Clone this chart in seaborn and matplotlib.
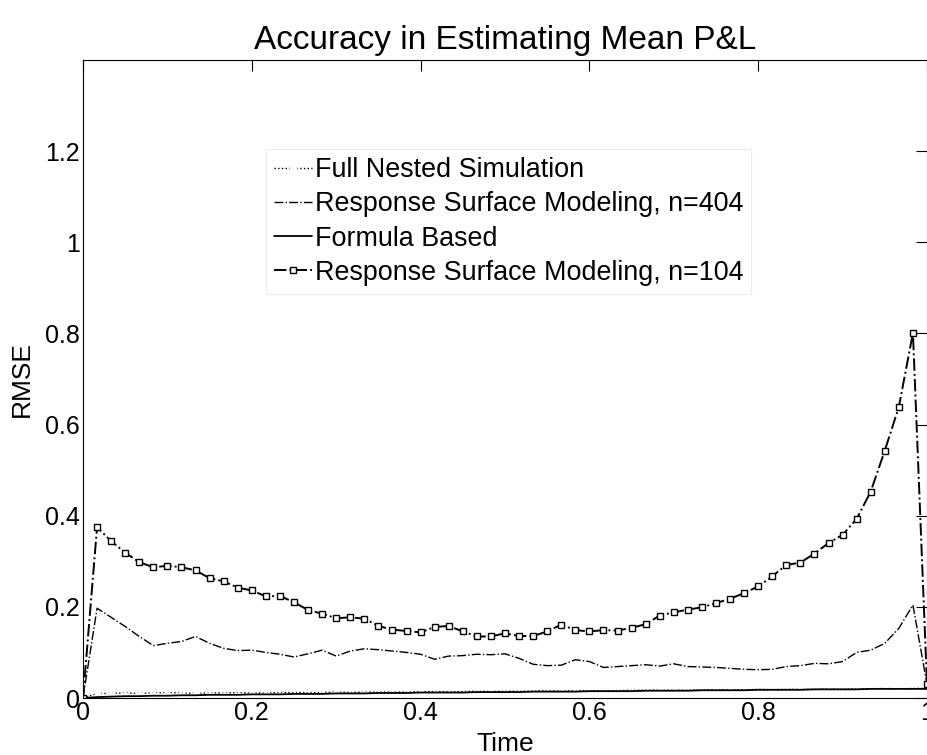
import numpy as np
import pandas as pd
import matplotlib
matplotlib.use("Agg")
import matplotlib.pyplot as plt
import seaborn as sns

sns.set_style("white")
plt.rcParams['font.family'] = ['Liberation Sans', 'DejaVu Sans']
plt.rcParams['text.color'] = 'black'
plt.rcParams['axes.labelcolor'] = 'black'

# Time grid: 61 points (k/60)
time = [k / 60 for k in range(61)]

full_nested = [0.000, 0.010, 0.010, 0.011, 0.010, 0.011, 0.012, 0.011, 0.010, 0.011,
               0.011, 0.012, 0.011, 0.011, 0.012, 0.012, 0.012, 0.012, 0.013, 0.012,
               0.013, 0.013, 0.013, 0.013, 0.014, 0.014, 0.014, 0.014, 0.015, 0.014,
               0.015, 0.015, 0.015, 0.016, 0.015, 0.016, 0.016, 0.016, 0.016, 0.017,
               0.017, 0.017, 0.017, 0.017, 0.018, 0.018, 0.018, 0.018, 0.019, 0.018,
               0.019, 0.019, 0.019, 0.020, 0.019, 0.020, 0.020, 0.021, 0.020, 0.021,
               0.021]

rsm_404 = [0.000, 0.197, 0.177, 0.157, 0.135, 0.115, 0.120, 0.124, 0.135, 0.120,
           0.109, 0.104, 0.105, 0.100, 0.096, 0.090, 0.097, 0.105, 0.092, 0.103,
           0.108, 0.106, 0.103, 0.100, 0.096, 0.085, 0.092, 0.093, 0.096, 0.095,
           0.097, 0.087, 0.074, 0.071, 0.072, 0.084, 0.080, 0.067, 0.069, 0.071,
           0.073, 0.070, 0.075, 0.069, 0.068, 0.067, 0.065, 0.063, 0.062, 0.063,
           0.069, 0.071, 0.076, 0.075, 0.080, 0.100, 0.105, 0.120, 0.153, 0.204,
           0.030]

formula = [0.000, 0.002, 0.003, 0.004, 0.004, 0.005, 0.005, 0.006, 0.006, 0.007,
           0.007, 0.007, 0.008, 0.008, 0.008, 0.009, 0.009, 0.009, 0.010, 0.010,
           0.010, 0.011, 0.011, 0.011, 0.012, 0.012, 0.012, 0.012, 0.013, 0.013,
           0.013, 0.013, 0.014, 0.014, 0.014, 0.014, 0.015, 0.015, 0.015, 0.015,
           0.016, 0.016, 0.016, 0.016, 0.017, 0.017, 0.017, 0.017, 0.018, 0.018,
           0.018, 0.018, 0.019, 0.019, 0.019, 0.019, 0.020, 0.020, 0.020, 0.020,
           0.020]

rsm_104 = [0.000, 0.375, 0.344, 0.319, 0.298, 0.287, 0.290, 0.287, 0.280, 0.263,
           0.256, 0.242, 0.236, 0.223, 0.224, 0.210, 0.193, 0.185, 0.175, 0.177,
           0.174, 0.158, 0.150, 0.147, 0.144, 0.156, 0.158, 0.146, 0.135, 0.135,
           0.142, 0.136, 0.136, 0.146, 0.161, 0.149, 0.146, 0.149, 0.148, 0.154,
           0.162, 0.181, 0.188, 0.194, 0.199, 0.208, 0.218, 0.230, 0.245, 0.267,
           0.292, 0.297, 0.317, 0.340, 0.358, 0.393, 0.453, 0.543, 0.639, 0.801,
           0.030]

labels = ["Full Nested Simulation", "Response Surface Modeling, n=404",
          "Formula Based", "Response Surface Modeling, n=104"]

fig = plt.figure(figsize=(9.28, 7.55), dpi=100)
ax = fig.add_axes([83 / 928, 57 / 755, 844 / 928, 638 / 755])

df = pd.DataFrame({"Time": time, "fn": full_nested, "r404": rsm_404,
                   "fb": formula, "r104": rsm_104})

sns.lineplot(data=df, x="Time", y="fn", ax=ax, color="black", lw=1.0,
             linestyle=":", marker="+", markersize=6, markeredgewidth=1.0,
             label=labels[0])
sns.lineplot(data=df, x="Time", y="r404", ax=ax, color="black", lw=1.0,
             linestyle="-.", label=labels[1])
sns.lineplot(data=df, x="Time", y="fb", ax=ax, color="black", lw=1.3,
             linestyle="-", label=labels[2])
sns.lineplot(data=df, x="Time", y="r104", ax=ax, color="black", lw=1.4,
             linestyle="-.", marker="s", markersize=4, markerfacecolor="white",
             markeredgecolor="black", markeredgewidth=1.0, label=labels[3])

ax.set_xlim(0, 1)
ax.set_ylim(0, 1.4)
xt = [0, 0.2, 0.4, 0.6, 0.8, 1.0]
yt = [0, 0.2, 0.4, 0.6, 0.8, 1.0, 1.2]
ax.set_xticks(xt)
ax.set_xticklabels(["0", "0.2", "0.4", "0.6", "0.8", "1"])
ax.set_yticks(yt)
ax.set_yticklabels(["0", "0.2", "0.4", "0.6", "0.8", "1", "1.2"])
ax.tick_params(direction="in", length=8, width=0.8, top=True, right=True,
               labelsize=18, pad=2, colors="black")
for s in ax.spines.values():
    s.set_color("black")
    s.set_linewidth(0.8)

ax.set_xlabel("Time", fontsize=19, labelpad=5, color="black")
ax.set_ylabel("RMSE", fontsize=19, labelpad=8, color="black")
ax.set_title("Accuracy in Estimating Mean P&L", fontsize=24, pad=8, color="black")

leg = ax.legend(loc="upper left", bbox_to_anchor=(0.2166, 0.860), fontsize=19.4,
                frameon=True, fancybox=False, edgecolor="#e8e8e8",
                handlelength=1.4, handletextpad=0.12, labelspacing=0.3,
                borderpad=0.3, borderaxespad=0)
leg.get_frame().set_linewidth(0.8)
for t in leg.get_texts():
    t.set_color("black")

fig.savefig("out.png", dpi=100)
